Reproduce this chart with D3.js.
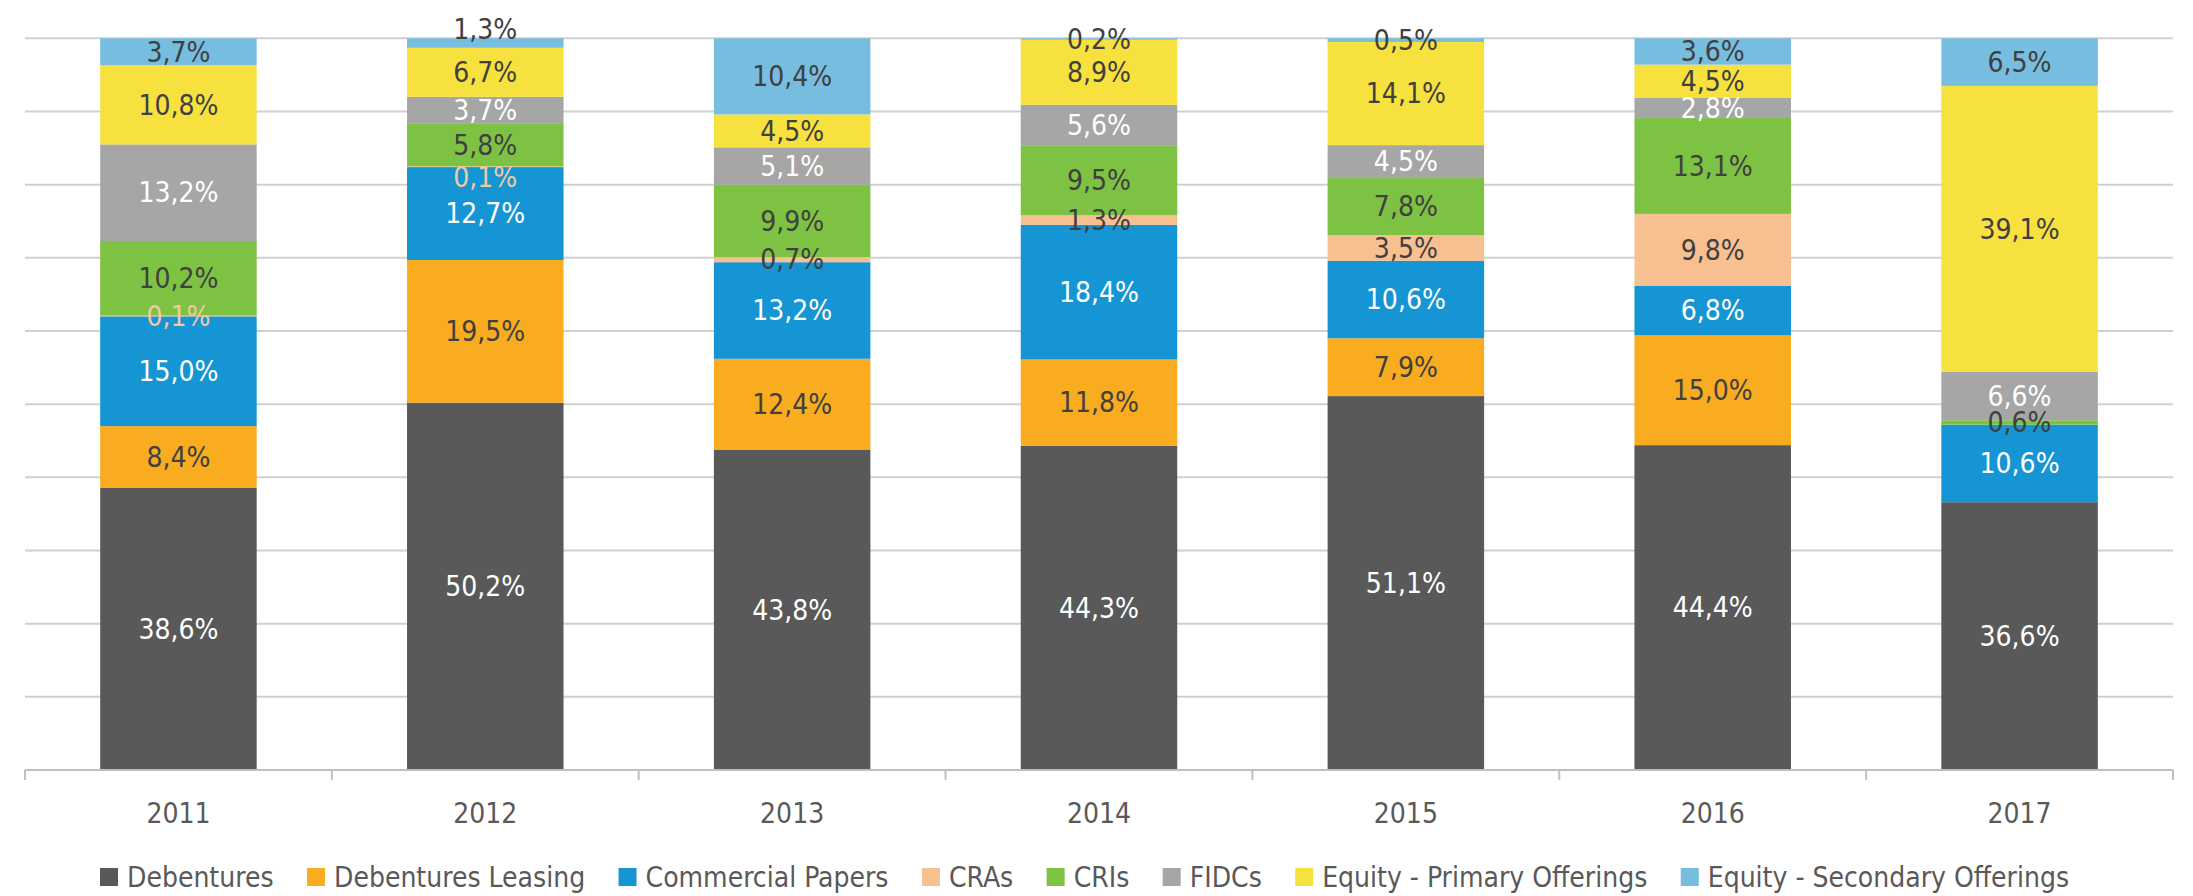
<!DOCTYPE html>
<html>
<head>
<meta charset="utf-8">
<script src="https://cdn.jsdelivr.net/npm/d3@7"></script>
<style>
  html, body { margin: 0; padding: 0; background: #fff; }
  svg { display: block; }
  text { font-family: "DejaVu Sans Condensed", "DejaVu Sans", sans-serif; font-stretch: condensed; }
</style>
</head>
<body>
<svg id="chart" width="2193" height="896"></svg>
<script>
// ---- data ----
const categories = ["2011", "2012", "2013", "2014", "2015", "2016", "2017"];
const seriesNames = ["Debentures", "Debentures Leasing", "Commercial Papers", "CRAs", "CRIs", "FIDCs", "Equity - Primary Offerings", "Equity - Secondary Offerings"];
const debentures       = [38.6, 50.2, 43.8, 44.3, 51.1, 44.4, 36.6];
const debenturesLeasing = [8.4, 19.5, 12.4, 11.8, 7.9, 15.0, 0];
const commercialPapers = [15.0, 12.7, 13.2, 18.4, 10.6, 6.8, 10.6];
const cras             = [0.1, 0.1, 0.7, 1.3, 3.5, 9.8, 0];
const cris             = [10.2, 5.8, 9.9, 9.5, 7.8, 13.1, 0.6];
const fidcs            = [13.2, 3.7, 5.1, 5.6, 4.5, 2.8, 6.6];
const equityPrimary    = [10.8, 6.7, 4.5, 8.9, 14.1, 4.5, 39.1];
const equitySecondary  = [3.7, 1.3, 10.4, 0.2, 0.5, 3.6, 6.5];
const yTicks = [0, 10, 20, 30, 40, 50, 60, 70, 80, 90, 100];

const seriesValues = [debentures, debenturesLeasing, commercialPapers, cras, cris, fidcs, equityPrimary, equitySecondary];
const colors = ["#595959", "#F9AC20", "#1595D3", "#F8C091", "#7DC243", "#A6A6A6", "#F6E13F", "#77BDE0"];
const labelColors = ["#FFFFFF", "#404040", "#FFFFFF", "#404040", "#404040", "#FFFFFF", "#404040", "#404040"];

(function () {
// ---- layout ----
const svg = d3.select("#chart");
const plotLeft = 25, plotRight = 2173, plotTop = 38.3, plotBottom = 770;
const fontSize = 28;

const rows = categories.map((c, i) => {
  const r = { category: c };
  seriesNames.forEach((s, k) => { r[s] = seriesValues[k][i]; });
  return r;
});

const x = d3.scaleBand().domain(categories).range([plotLeft, plotRight]).paddingInner(0.49).paddingOuter(0.245);
const y = d3.scaleLinear().domain([0, 100]).range([plotBottom, plotTop]);

// gridlines
svg.append("g").selectAll("line").data(yTicks.filter(t => t > 0)).join("line")
  .attr("x1", plotLeft).attr("x2", plotRight)
  .attr("y1", d => y(d)).attr("y2", d => y(d))
  .attr("stroke", "#D0D0D0").attr("stroke-width", 2);

const stacked = d3.stack().keys(seriesNames)(rows);

// bars
const layers = svg.append("g").selectAll("g").data(stacked).join("g")
  .attr("fill", (d, i) => colors[i]);
layers.selectAll("rect").data(d => d).join("rect")
  .attr("x", d => x(d.data.category))
  .attr("width", x.bandwidth())
  .attr("y", d => y(d[1]))
  .attr("height", d => Math.max(0, y(d[0]) - y(d[1])));

// axis line + ticks at band boundaries
svg.append("line").attr("x1", plotLeft).attr("x2", plotRight).attr("y1", plotBottom).attr("y2", plotBottom)
  .attr("stroke", "#BFBFBF").attr("stroke-width", 2);
const boundaries = d3.range(categories.length + 1).map(i => plotLeft + i * x.step());
svg.append("g").selectAll("line").data(boundaries).join("line")
  .attr("x1", d => d).attr("x2", d => d).attr("y1", plotBottom).attr("y2", plotBottom + 10)
  .attr("stroke", "#BFBFBF").attr("stroke-width", 2);

// category labels via axis
const xAxis = svg.append("g").attr("transform", `translate(0,${plotBottom})`)
  .call(d3.axisBottom(x).tickSize(0).tickPadding(0));
xAxis.select(".domain").remove();
xAxis.selectAll("text")
  .attr("y", 43).attr("dy", "0.35em")
  .attr("fill", "#595959").style("font-size", fontSize + "px")
  .style("font-family", '"DejaVu Sans Condensed", "DejaVu Sans", sans-serif');

// data labels
const fmt = v => v.toFixed(1).replace(".", ",") + "%";
stacked.forEach((layer, k) => {
  svg.append("g").selectAll("text").data(layer.filter(d => d.data[seriesNames[k]] > 0)).join("text")
    .attr("x", d => x(d.data.category) + x.bandwidth() / 2)
    .attr("y", d => {
      let cy = (y(d[0]) + y(d[1])) / 2;
      if (d.data.category === "2012" && k === 7) cy -= 14;
      if (d.data.category === "2012" && k === 3) cy += 10;
      return cy;
    })
    .attr("dy", "0.35em")
    .attr("text-anchor", "middle")
    .style("font-size", fontSize + "px")
    .attr("fill", d => (k === 3 && d.data[seriesNames[k]] < 0.5) ? "#F2C9A0" : labelColors[k])
    .text(d => fmt(d.data[seriesNames[k]]));
});

// legend
const legendY = 877, legendStart = 100, legendEnd = 2069, markerSize = 18, markerGap = 9;
const legend = svg.append("g");
const items = legend.selectAll("g").data(seriesNames).join("g");
items.append("rect").attr("width", markerSize).attr("height", markerSize)
  .attr("y", legendY - markerSize / 2).attr("fill", (d, i) => colors[i]);
items.append("text").attr("x", markerSize + markerGap).attr("y", legendY).attr("dy", "0.35em")
  .attr("fill", "#595959").style("font-size", fontSize + "px").text(d => d);
const widths = [];
items.each(function () {
  widths.push(markerSize + markerGap + d3.select(this).select("text").node().getComputedTextLength());
});
const gap = (legendEnd - legendStart - d3.sum(widths)) / (widths.length - 1);
let cx = legendStart;
items.attr("transform", (d, i) => { const t = `translate(${cx},0)`; cx += widths[i] + gap; return t; });
})();
</script>
</body>
</html>
